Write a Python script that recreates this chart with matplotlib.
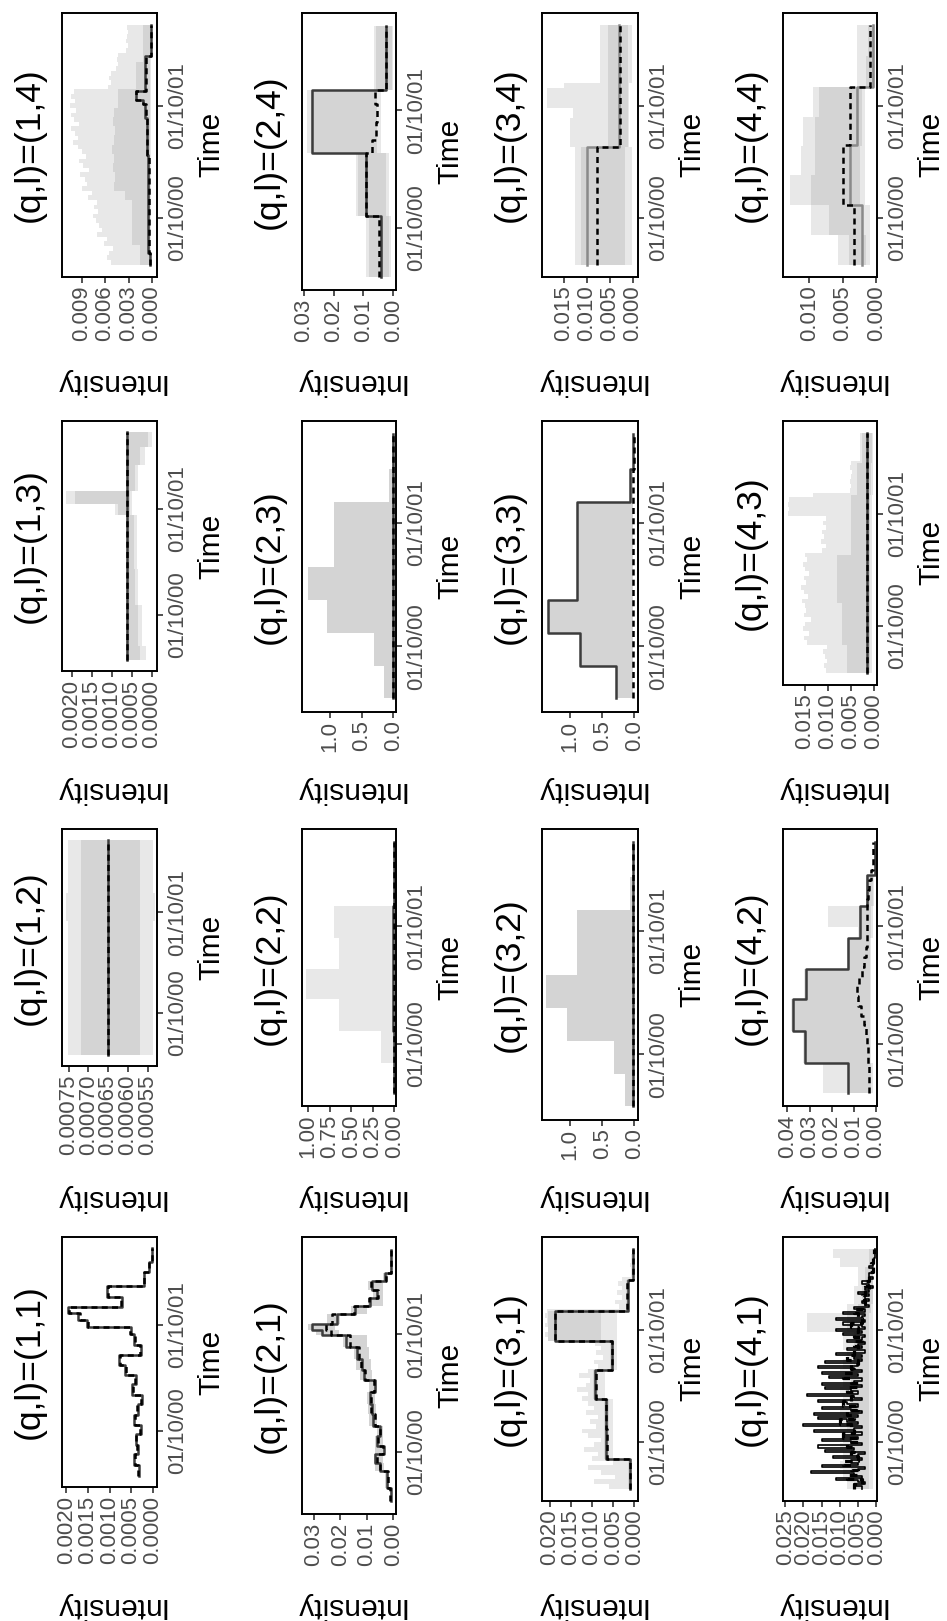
import numpy as np
import matplotlib
matplotlib.use("Agg")
import matplotlib.pyplot as plt

plt.rcParams['font.family'] = ['Liberation Sans', 'DejaVu Sans']

W, H = 947, 1621
T0, T1 = 2000.33, 2002.47
time_ticks = [2000.75, 2001.75]
time_labels = ['01/10/00', '01/10/01']

quarters = [2000.33, 2000.59, 2000.86, 2001.13, 2001.39, 2001.65, 2001.92, 2002.19, 2002.47]
months = [2000.33, 2000.41, 2000.50, 2000.58, 2000.66, 2000.74, 2000.83, 2000.91, 2000.99,
          2001.07, 2001.16, 2001.24, 2001.32, 2001.40, 2001.49, 2001.57, 2001.65, 2001.73,
          2001.82, 2001.90, 2001.98, 2002.06, 2002.14, 2002.23, 2002.31, 2002.39, 2002.47]
whole = [2000.33, 2002.47]

# ---------------- l = 1 ----------------
p11_t = [2000.33, 2000.43, 2000.53, 2000.62, 2000.72, 2000.81, 2000.90, 2001.00, 2001.09, 2001.19,
         2001.28, 2001.37, 2001.47, 2001.56, 2001.66, 2001.73, 2001.80, 2001.86, 2001.92, 2002.01,
         2002.12, 2002.25, 2002.34, 2002.47]
p11_true = [0.00031, 0.00043, 0.00035, 0.00039, 0.00027, 0.00043, 0.00035, 0.00024, 0.00047, 0.00039,
            0.00063, 0.00078, 0.00027, 0.00043, 0.00051, 0.00153, 0.00172, 0.00196, 0.00071, 0.00106,
            0.00020, 0.00008, 0.00002]
p11_est = [0.00033, 0.00041, 0.00037, 0.00038, 0.00029, 0.00041, 0.00036, 0.00026, 0.00045, 0.00040,
           0.00061, 0.00076, 0.00029, 0.00042, 0.00052, 0.00150, 0.00169, 0.00193, 0.00073, 0.00104,
           0.00021, 0.00008, 0.00002]

p21_t = [2000.33, 2000.44, 2000.59, 2000.66, 2000.73, 2000.80, 2000.89, 2000.97, 2001.07, 2001.16,
         2001.26, 2001.36, 2001.45, 2001.54, 2001.64, 2001.74, 2001.79, 2001.84, 2001.92, 2001.99,
         2002.06, 2002.13, 2002.20, 2002.27, 2002.47]
p21_true = [0.0010, 0.0024, 0.0049, 0.0068, 0.0036, 0.0062, 0.0049, 0.0075, 0.0081, 0.0087,
            0.0068, 0.0112, 0.0118, 0.0137, 0.0180, 0.0270, 0.0308, 0.0213, 0.0143, 0.0087,
            0.0062, 0.0081, 0.0030, 0.0010]
p21_est = [0.0012, 0.0022, 0.0052, 0.0062, 0.0040, 0.0058, 0.0052, 0.0070, 0.0085, 0.0083,
           0.0072, 0.0105, 0.0120, 0.0130, 0.0165, 0.0235, 0.0255, 0.0230, 0.0150, 0.0092,
           0.0058, 0.0085, 0.0028, 0.0010]
p21_lo = [0.0008, 0.0018, 0.0035, 0.0040, 0.0030, 0.0040, 0.0040, 0.0060, 0.0065, 0.0068,
          0.0060, 0.0080, 0.0085, 0.0090, 0.0100, 0.0205, 0.0220, 0.0200, 0.0100, 0.0040,
          0.0040, 0.0040, 0.0020, 0.0008]
p21_hi = [0.0014, 0.0030, 0.0070, 0.0072, 0.0070, 0.0068, 0.0060, 0.0090, 0.0095, 0.0100,
          0.0090, 0.0125, 0.0140, 0.0150, 0.0190, 0.0290, 0.0320, 0.0250, 0.0160, 0.0095,
          0.0075, 0.0095, 0.0040, 0.0012]

p31_true = [0.0011, 0.0066, 0.0066, 0.0092, 0.0052, 0.0189, 0.0015, 0.0003]
p31_est = [0.0011, 0.0065, 0.0067, 0.0091, 0.0053, 0.0187, 0.0016, 0.0003]
p31_out_lo = [0.0006, 0.0050, 0.0050, 0.0070, 0.0040, 0.0040, 0.0010, 0.0002]
p31_out_hi = [0.0060, 0.0095, 0.0045, 0.0080, 0.0110, 0.0050,
              0.0100, 0.0085, 0.0120, 0.0095, 0.0080, 0.0110, 0.0125, 0.0090, 0.0105, 0.0085,
              0.0115, 0.0095, 0.0110,
              0.0125, 0.0110, 0.0135, 0.0115, 0.0105, 0.0130, 0.0110,
              0.0085, 0.0095, 0.0075, 0.0090, 0.0080, 0.0092, 0.0085,
              0.0212, 0.0205, 0.0212, 0.0208, 0.0212, 0.0206,
              0.0035, 0.0045, 0.0030, 0.0040, 0.0028, 0.0038, 0.0030,
              0.0008, 0.0007, 0.0009, 0.0008, 0.0007, 0.0006]
p31_in_lo = [0.0009, 0.0061, 0.0061, 0.0087, 0.0047, 0.0080, 0.0012, 0.0002]
p31_in_hi = [0.0015, 0.0072, 0.0072, 0.0098, 0.0058, 0.0205, 0.0020, 0.0004]

# weekly values, (q,l)=(4,1)
p41_true = [0.004, 0.006, 0.003, 0.005, 0.011, 0.004, 0.006, 0.018, 0.005, 0.003,
            0.015, 0.005, 0.007, 0.004, 0.012, 0.005, 0.003, 0.014, 0.006, 0.016,
            0.004, 0.007, 0.015, 0.005, 0.009, 0.004, 0.017, 0.006, 0.004, 0.020,
            0.005, 0.008, 0.016, 0.005, 0.017, 0.004, 0.007, 0.015, 0.005, 0.008,
            0.016, 0.004, 0.006, 0.019, 0.005, 0.007, 0.014, 0.004, 0.015, 0.006,
            0.004, 0.013, 0.005, 0.015, 0.004, 0.006, 0.016, 0.005, 0.014, 0.004,
            0.006, 0.004, 0.011, 0.003, 0.008, 0.004, 0.005, 0.003, 0.008, 0.004,
            0.003, 0.009, 0.004, 0.011, 0.003, 0.004, 0.009, 0.003, 0.011, 0.004,
            0.003, 0.009, 0.003, 0.006, 0.002, 0.003, 0.004, 0.002, 0.003, 0.002,
            0.005, 0.002, 0.003, 0.001, 0.002, 0.004, 0.002, 0.001, 0.002, 0.002,
            0.001, 0.001, 0.002, 0.001, 0.001, 0.0005, 0.0005, 0.0004, 0.0004, 0.0003, 0.0003]
p41_est = [0.006, 0.004, 0.008, 0.005, 0.007, 0.009, 0.005, 0.007, 0.006, 0.008,
           0.005, 0.009, 0.006, 0.007, 0.010, 0.006, 0.008, 0.005, 0.009, 0.007,
           0.006, 0.008, 0.005, 0.007, 0.009, 0.006, 0.007, 0.005, 0.008, 0.006,
           0.005, 0.006, 0.004, 0.006, 0.005, 0.007, 0.004, 0.005, 0.006, 0.004,
           0.003, 0.004, 0.003, 0.002, 0.003, 0.002, 0.002, 0.001, 0.0015, 0.001,
           0.0008, 0.0006]
p41_out_hi = [0.008, 0.009, 0.010, 0.009, 0.010, 0.009, 0.010, 0.009, 0.010, 0.009, 0.010, 0.009, 0.010,
              0.009, 0.008, 0.009, 0.009, 0.019, 0.019, 0.008, 0.006, 0.006, 0.005, 0.005, 0.010, 0.012]
p41_in_lo = [0.002, 0.002, 0.002, 0.002, 0.002, 0.002, 0.002, 0.002, 0.002, 0.002, 0.002, 0.002, 0.002,
             0.002, 0.002, 0.002, 0.002, 0.002, 0.002, 0.0015, 0.001, 0.001, 0.001, 0.0008, 0.0005, 0.0003]
p41_in_hi = [0.006, 0.007, 0.007, 0.007, 0.007, 0.007, 0.008, 0.007, 0.007, 0.007, 0.007, 0.007, 0.007,
             0.006, 0.006, 0.006, 0.006, 0.008, 0.008, 0.005, 0.004, 0.004, 0.003, 0.003, 0.002, 0.002]

# ---------------- l = 2 ----------------
p12_true = [0.00065]
p12_est = [0.00065]
p12_out_t = [2000.33, 2001.66, 2001.94, 2002.47]
p12_out_lo = [0.000537, 0.000532, 0.000537]
p12_out_hi = [0.000753, 0.000758, 0.000753]
p12_in_lo = [0.000569]
p12_in_hi = [0.000719]

p22_true = [0.008, 0.008, 0.009, 0.010, 0.009, 0.009, 0.008, 0.007]
p22_est = [0.006, 0.006, 0.007, 0.008, 0.007, 0.007, 0.006, 0.005]
p22_band = [0.0, 0.15, 0.64, 1.02, 0.64, 0.70, 0.0, 0.0]

p32_true = [0.02, 0.02, 0.02, 0.02, 0.02, 0.02, 0.02, 0.02]
p32_est = [0.015, 0.015, 0.015, 0.015, 0.015, 0.015, 0.015, 0.015]
p32_band = [0.15, 0.31, 1.05, 1.37, 0.89, 0.89, 0.07, 0.02]

p42_true = [0.0124, 0.0320, 0.0374, 0.0314, 0.0124, 0.0074, 0.0041, 0.0006]
p42_est = [0.0033, 0.0033, 0.0033, 0.0034, 0.0036, 0.0041, 0.0045, 0.0052, 0.0066, 0.0079, 0.0086,
           0.0075, 0.0062, 0.0052, 0.0043, 0.0041, 0.0040, 0.0041, 0.0040, 0.0038, 0.0035, 0.0030,
           0.0020, 0.0012, 0.0011, 0.0011]
p42_in_lo = [0.0020, 0.0025, 0.0025, 0.0025, 0.0025, 0.0020, 0.0015, 0.0002]
p42_in_hi = [0.0128, 0.0325, 0.0380, 0.0320, 0.0128, 0.0078, 0.0045, 0.0008]
p42_out_t = [2000.33, 2000.59, 2000.86, 2001.13, 2001.39, 2001.65, 2001.74, 2001.92, 2002.19, 2002.47]
p42_out_lo = [0.0015, 0.0020, 0.0020, 0.0020, 0.0020, 0.0015, 0.0015, 0.0010, 0.0001]
p42_out_hi = [0.0238, 0.0330, 0.0385, 0.0325, 0.0130, 0.0080, 0.0215, 0.0045, 0.0008]

# ---------------- l = 3 ----------------
p13_true = [0.00063]
p13_est = [0.00063]
p13_out_t = [2000.33, 2000.46, 2000.84, 2001.18, 2001.69, 2001.80, 2001.92, 2002.16, 2002.33, 2002.47]
p13_out_lo = [0.00015, 0.00025, 0.00034, 0.00038, 0.00050, 0.00050, 0.00034, 0.00017, 0.00001]
p13_out_hi = [0.00066, 0.00066, 0.00066, 0.00066, 0.00092, 0.00214, 0.00066, 0.00066, 0.00066]
p13_in_lo = [0.00030, 0.00035, 0.00042, 0.00045, 0.00056, 0.00056, 0.00042, 0.00030, 0.00010]
p13_in_hi = [0.00064, 0.00064, 0.00064, 0.00064, 0.00085, 0.00193, 0.00064, 0.00064, 0.00064]

p23_true = [0.005, 0.006, 0.008, 0.010, 0.008, 0.006, 0.004, 0.003]
p23_est = [0.004, 0.005, 0.006, 0.008, 0.007, 0.005, 0.003, 0.002]
p23_band = [0.15, 0.31, 1.05, 1.34, 0.94, 0.94, 0.07, 0.03]

p33_true = [0.29, 0.84, 1.34, 0.89, 0.89, 0.89, 0.07, 0.02]
p33_est = [0.02, 0.02, 0.02, 0.02, 0.02, 0.02, 0.015, 0.01]

p43_true = [0.0015]
p43_est = [0.0015]
p43_out_lo = [0.0004, 0.0004, 0.0004, 0.0004, 0.0004, 0.0004, 0.0004, 0.0002, 0.0001]
p43_out_lo_t = [2000.33, 2000.58, 2000.95, 2001.38, 2001.67, 2001.73, 2001.86, 2001.92, 2002.20, 2002.47]
p43_out_hi = [0.0104, 0.0108, 0.0101, 0.0107, 0.0110, 0.0103,
              0.0146, 0.0152, 0.0141, 0.0155, 0.0149, 0.0138, 0.0153, 0.0147, 0.0151,
              0.0156, 0.0144, 0.0152, 0.0158, 0.0147, 0.0153, 0.0142, 0.0150, 0.0155, 0.0146, 0.0151,
              0.0113, 0.0105, 0.0116, 0.0109, 0.0112, 0.0104, 0.0110,
              0.0105,
              0.0187, 0.0186, 0.0188, 0.0185,
              0.0132,
              0.0051, 0.0049, 0.0052, 0.0050, 0.0048, 0.0051, 0.0050,
              0.0030, 0.0031, 0.0029, 0.0030, 0.0030, 0.0029]
p43_in_lo = [0.0008, 0.0008, 0.0008, 0.0008, 0.0008, 0.0008, 0.0008, 0.0005, 0.0003]
p43_in_hi = [0.0059, 0.0070, 0.0080, 0.0050, 0.0050, 0.0050, 0.0050, 0.0037, 0.0026]

# ---------------- l = 4 ----------------
p14_t = [2000.33, 2000.43, 2001.31, 2001.64, 2001.76, 2001.80, 2001.88, 2002.19, 2002.47]
p14_true = [0.0002, 0.0005, 0.0006, 0.0009, 0.0012, 0.0021, 0.0009, 0.0001]
p14_est = [0.0002, 0.0004, 0.0006, 0.0008, 0.0011, 0.0020, 0.0008, 0.0001]
p14_out_hi = [0.0052, 0.0058, 0.0055, 0.0050, 0.0061, 0.0057, 0.0070, 0.0064, 0.0068, 0.0072,
              0.0075, 0.0069, 0.0074, 0.0070, 0.0082, 0.0077, 0.0090, 0.0083, 0.0086, 0.0092,
              0.0081, 0.0088, 0.0093, 0.0084, 0.0089, 0.0095, 0.0101, 0.0094, 0.0098, 0.0103,
              0.0093, 0.0100, 0.0104, 0.0097, 0.0105, 0.0099, 0.0103, 0.0100, 0.0056, 0.0053,
              0.0055, 0.0052, 0.0046, 0.0044, 0.0045, 0.0043, 0.0033, 0.0031, 0.0033, 0.0032,
              0.0031, 0.0032]
p14_in_hi = [0.0015, 0.0015, 0.0026, 0.0026, 0.0026, 0.0026, 0.0026, 0.0035, 0.0049, 0.0047, 0.0050,
             0.0048, 0.0051, 0.0049, 0.0047, 0.0050, 0.0048, 0.0043, 0.0043, 0.0021, 0.0021, 0.0021,
             0.0011, 0.0011, 0.0011, 0.0011]

p24_t = [2000.33, 2000.85, 2001.39, 2001.92, 2002.47]
p24_true = [0.0042, 0.0092, 0.0272, 0.0025]
p24_est_t = [2000.33, 2000.85, 2001.39, 2001.50, 2001.65, 2001.80, 2001.92, 2002.47]
p24_est = [0.0047, 0.0092, 0.0070, 0.0058, 0.0053, 0.0062, 0.0025]
p24_in_lo = [0.0015, 0.0025, 0.0055, 0.0003]
p24_in_hi = [0.0080, 0.0118, 0.0275, 0.0058]
p24_out_lo = [0.0008, 0.0015, 0.0040, 0.0001]
p24_out_hi = [0.0090, 0.0125, 0.0288, 0.0065]

p34_t = [2000.33, 2001.38, 2002.47]
p34_true = [0.0099, 0.0031]
p34_est = [0.0078, 0.0029]
p34_in_lo = [0.0018, 0.0010]
p34_in_hi = [0.0112, 0.0055]
p34_out_t = [2000.33, 2001.38, 2001.64, 2001.73, 2001.91, 2001.95, 2002.47]
p34_out_lo = [0.0003, 0.0008, 0.0008, 0.0008, 0.0008, 0.0003]
p34_out_hi = [0.0125, 0.0136, 0.0130, 0.0187, 0.0150, 0.0072]

p44_t = [2000.33, 2000.86, 2001.40, 2001.92, 2002.47]
p44_true = [0.00215, 0.0039, 0.0029, 0.0005]
p44_est = [0.0034, 0.0050, 0.0039, 0.0009]
p44_out_lo = [0.0009, 0.0009, 0.0017, 0.0017, 0.0017, 0.0017, 0.0002, 0.0002]
p44_out_hi = [0.0057, 0.0097, 0.0129, 0.0112, 0.0109, 0.0094, 0.0029, 0.0029]
p44_in_lo = [0.0015, 0.0020, 0.0025, 0.0025, 0.0022, 0.0022, 0.0004, 0.0004]
p44_in_hi = [0.0041, 0.0070, 0.0097, 0.0092, 0.0092, 0.0085, 0.0015, 0.0012]

# regular time grids for the finer series
weeks = np.linspace(T0, T1, len(p41_true) + 1)
fortnights = np.linspace(T0, T1, 53)

# ribbons: ((edges_lo, lo), (edges_hi, hi)); a scalar bound needs no edges of its own
panels = {
    (1, 1): dict(true=(p11_t, p11_true), est=(p11_t, p11_est),
                 ticks=[0, 0.0005, 0.001, 0.0015, 0.002], fmt='%.4f', xlim=(-0.0001, 0.0021)),
    (2, 1): dict(true=(p21_t, p21_true), est=(p21_t, p21_est),
                 inner=((p21_t, p21_lo), (p21_t, p21_hi)),
                 ticks=[0, 0.01, 0.02, 0.03], fmt='%.2f', xlim=(-0.001, 0.0344)),
    (3, 1): dict(true=(quarters, p31_true), est=(quarters, p31_est),
                 outer=((quarters, p31_out_lo), (fortnights, p31_out_hi)),
                 inner=((quarters, p31_in_lo), (quarters, p31_in_hi)),
                 ticks=[0, 0.005, 0.01, 0.015, 0.02], fmt='%.3f', xlim=(-0.0009, 0.0219)),
    (4, 1): dict(true=(weeks, p41_true), est=(fortnights, p41_est),
                 outer=((months, 0.001), (months, p41_out_hi)),
                 inner=((months, p41_in_lo), (months, p41_in_hi)),
                 ticks=[0, 0.005, 0.01, 0.015, 0.02, 0.025], fmt='%.3f', xlim=(-0.0002, 0.0256),
                 true_color='black', true_lw=1.2, est_lw=2.3),
    (1, 2): dict(true=(whole, p12_true), est=(whole, p12_est),
                 outer=((p12_out_t, p12_out_lo), (p12_out_t, p12_out_hi)),
                 inner=((whole, p12_in_lo), (whole, p12_in_hi)),
                 ticks=[0.00055, 0.0006, 0.00065, 0.0007, 0.00075], fmt='%.5f', xlim=(0.000526, 0.000767)),
    (2, 2): dict(true=(quarters, p22_true), est=(quarters, p22_est),
                 outer=((quarters, 0.0), (quarters, p22_band)),
                 ticks=[0, 0.25, 0.5, 0.75, 1.0], fmt='%.2f', xlim=(-0.02, 1.07)),
    (3, 2): dict(true=(quarters, p32_true), est=(quarters, p32_est),
                 inner=((quarters, 0.0), (quarters, p32_band)),
                 ticks=[0, 0.5, 1.0], fmt='%.1f', xlim=(-0.058, 1.44)),
    (4, 2): dict(true=(quarters, p42_true), est=(months, p42_est),
                 outer=((p42_out_t, p42_out_lo), (p42_out_t, p42_out_hi)),
                 inner=((quarters, p42_in_lo), (quarters, p42_in_hi)),
                 ticks=[0, 0.01, 0.02, 0.03, 0.04], fmt='%.2f', xlim=(-0.0005, 0.042)),
    (1, 3): dict(true=(whole, p13_true), est=(whole, p13_est),
                 outer=((p13_out_t, p13_out_lo), (p13_out_t, p13_out_hi)),
                 inner=((p13_out_t, p13_in_lo), (p13_out_t, p13_in_hi)),
                 ticks=[0, 0.0005, 0.001, 0.0015, 0.002], fmt='%.4f', xlim=(-0.000126, 0.00225)),
    (2, 3): dict(true=(quarters, p23_true), est=(quarters, p23_est),
                 inner=((quarters, 0.0), (quarters, p23_band)),
                 ticks=[0, 0.5, 1.0], fmt='%.1f', xlim=(-0.04, 1.44)),
    (3, 3): dict(true=(quarters, p33_true), est=(quarters, p33_est),
                 inner=((quarters, p33_est), (quarters, p33_true)),
                 ticks=[0, 0.5, 1.0], fmt='%.1f', xlim=(-0.058, 1.44)),
    (4, 3): dict(true=(whole, p43_true), est=(whole, p43_est),
                 outer=((p43_out_lo_t, p43_out_lo), (fortnights, p43_out_hi)),
                 inner=((p43_out_lo_t, p43_in_lo), (p43_out_lo_t, p43_in_hi)),
                 ticks=[0, 0.005, 0.01, 0.015], fmt='%.3f', xlim=(-0.0007, 0.0198)),
    (1, 4): dict(true=(p14_t, p14_true), est=(p14_t, p14_est),
                 outer=((months, 0.0001), (fortnights, p14_out_hi)),
                 inner=((months, 0.0003), (months, p14_in_hi)),
                 ticks=[0, 0.003, 0.006, 0.009], fmt='%.3f', xlim=(-0.00064, 0.0115)),
    (2, 4): dict(true=(p24_t, p24_true), est=(p24_est_t, p24_est),
                 outer=((p24_t, p24_out_lo), (p24_t, p24_out_hi)),
                 inner=((p24_t, p24_in_lo), (p24_t, p24_in_hi)),
                 ticks=[0, 0.01, 0.02, 0.03], fmt='%.2f', xlim=(-0.0009, 0.0306)),
    (3, 4): dict(true=(p34_t, p34_true), est=(p34_t, p34_est),
                 outer=((p34_out_t, p34_out_lo), (p34_out_t, p34_out_hi)),
                 inner=((p34_t, p34_in_lo), (p34_t, p34_in_hi)),
                 ticks=[0, 0.005, 0.01, 0.015], fmt='%.3f', xlim=(-0.0011, 0.0197),
                 true_color='#8A8A8A'),
    (4, 4): dict(true=(p44_t, p44_true), est=(p44_t, p44_est),
                 outer=((quarters, p44_out_lo), (quarters, p44_out_hi)),
                 inner=((quarters, p44_in_lo), (quarters, p44_in_hi)),
                 ticks=[0, 0.005, 0.01], fmt='%.3f', xlim=(-0.0001, 0.0139),
                 true_color='#8A8A8A'),
}

OUTER = '#E8E8E8'
INNER = '#D4D4D4'
TRUE_C = '#3C3C3C'

col_left = [62, 302, 542, 783]
col_right = [157, 396, 638, 877]
band_top = {4: 13, 3: 421, 2: 829, 1: 1237}


def steps(edges, vals):
    # vertical step path: intensity constant over each time interval
    edges = np.asarray(edges, float)
    vals = np.broadcast_to(np.asarray(vals, float), (len(edges) - 1,))
    return np.repeat(vals, 2), np.repeat(edges, 2)[1:-1]


def step_at(edges, vals, t):
    if np.ndim(vals) == 0:
        return np.full(len(t), float(vals))
    i = np.clip(np.searchsorted(edges, t, side='right') - 1, 0, len(vals) - 1)
    return np.asarray(vals, float)[i]


def ribbon(ax, band, color):
    (tl, lo), (th, hi) = band
    edges = np.union1d(np.asarray(tl, float), np.asarray(th, float))
    mids = (edges[:-1] + edges[1:]) / 2
    xl, ys = steps(edges, step_at(np.asarray(tl, float), lo, mids))
    xh, _ = steps(edges, step_at(np.asarray(th, float), hi, mids))
    ax.fill_betweenx(ys, xl, xh, color=color, lw=0)


fig = plt.figure(figsize=(W / 100, H / 100), dpi=100)

pad_t = 0.05 * (T1 - T0)
for (q, l), p in panels.items():
    labels = [p['fmt'] % v for v in p['ticks']]
    nchar = max(len(s) for s in labels)
    h = 250 + (6 - nchar) * 13.5
    x0, x1 = col_left[q - 1], col_right[q - 1]
    y0 = band_top[l]
    ax = fig.add_axes([x0 / W, 1 - (y0 + h) / H, (x1 - x0) / W, h / H])

    if 'outer' in p:
        ribbon(ax, p['outer'], OUTER)
    if 'inner' in p:
        ribbon(ax, p['inner'], INNER)
    xs, ys = steps(*p['true'])
    ax.plot(xs, ys, color=p.get('true_color', TRUE_C), lw=p.get('true_lw', 1.8))
    xs, ys = steps(*p['est'])
    ax.plot(xs, ys, color='black', lw=p.get('est_lw', 1.8), linestyle=(0, (2.4, 1.7)))

    lo, hi = p['xlim']
    ax.set_xlim(hi, lo)
    ax.set_ylim(T0 - pad_t, T1 + pad_t)
    ax.set_xticks(p['ticks'])
    ax.set_xticklabels(labels, rotation=90)
    ax.yaxis.tick_right()
    ax.set_yticks(time_ticks)
    ax.set_yticklabels(time_labels, rotation=90, va='center')
    ax.tick_params(axis='both', length=4, width=1.2, color='#333333',
                   labelsize=16, labelcolor='#4D4D4D', pad=2.5)
    ax.tick_params(axis='y', pad=3)
    for s in ax.spines.values():
        s.set_linewidth(1.4)
        s.set_color('black')

    cy = 1 - (y0 + h / 2) / H
    fig.text((x0 - 33) / W, cy, f'(q,l)=({q},{l})', rotation=90,
             ha='center', va='center', fontsize=25.5)
    fig.text((x1 + 54) / W, cy, 'Time', rotation=90, ha='center', va='center', fontsize=21.5)
    fig.text((x0 + x1) / 2 / W, 1 - (y0 + 369) / H, 'Intensity', rotation=180,
             ha='center', va='center', fontsize=21.5)

fig.savefig('out.png', dpi=100, facecolor='white')
